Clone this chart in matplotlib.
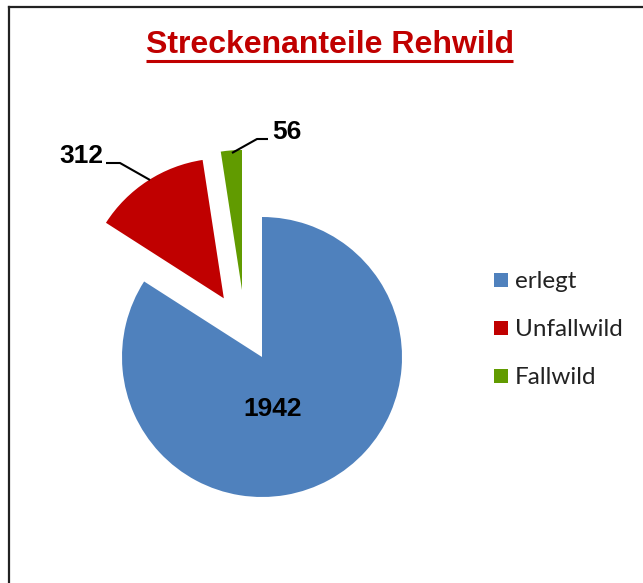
import matplotlib
matplotlib.use("Agg")
import matplotlib.pyplot as plt
from matplotlib.lines import Line2D
from matplotlib.patches import Rectangle

categories = ["erlegt", "Unfallwild", "Fallwild"]
values = [1942, 312, 56]
colors = ["#4F81BD", "#C00000", "#619B00"]
title = "Streckenanteile Rehwild"

W, H = 643, 583
DPI = 100
fig = plt.figure(figsize=(W / DPI, H / DPI), dpi=DPI)
fig.patch.set_facecolor("white")

# pie geometry in pixels
CX, CY, R = 262, 357, 140

ax = fig.add_axes([0, 0, 1, 1])
ax.set_xlim(-CX / R, (W - CX) / R)
ax.set_ylim(-(H - CY) / R, CY / R)
ax.axis("off")


def px(x, y):
    return ((x - CX) / R, (CY - y) / R)


wedges, _ = ax.pie(values, colors=colors, startangle=90, counterclock=False,
                   explode=[0, 0.5, 0.0], radius=1,
                   wedgeprops=dict(linewidth=0))
# Fallwild slice pulled out as in the reference
wedges[2].set_center(px(242, 290))
ax.set_xlim(-CX / R, (W - CX) / R)
ax.set_ylim(-(H - CY) / R, CY / R)
ax.set_aspect("auto")

lab_font = dict(family=["Liberation Sans", "DejaVu Sans"], fontweight="bold",
                fontsize=19, color="black")

# value labels
ax.text(*px(273, 409), str(values[0]), ha="center", va="center", **lab_font)
ax.text(*px(81, 156), str(values[1]), ha="center", va="center", **lab_font)
ax.text(*px(287, 132), str(values[2]), ha="center", va="center", **lab_font)

# leader lines
xs, ys = zip(px(106, 163), px(120, 163), px(150, 180))
ax.plot(xs, ys, color="black", lw=1.5, solid_capstyle="butt")
xs, ys = zip(px(268, 139), px(257, 139), px(232, 153))
ax.plot(xs, ys, color="black", lw=1.5, solid_capstyle="butt")

# title
fig.text(330 / W, 1 - 45 / H, title, ha="center", va="center",
         family=["Liberation Sans", "DejaVu Sans"], fontweight="bold",
         fontsize=23, color="#C00000")
fig.add_artist(Line2D([146 / W, 513 / W], [1 - 60.5 / H, 1 - 60.5 / H],
                      color="#C00000", lw=2.2, solid_capstyle="butt"))

# legend
leg_y = [280, 328, 376]
for cat, col, y in zip(categories, colors, leg_y):
    fig.add_artist(Rectangle((493.5 / W, 1 - (y + 7) / H), 14 / W, 14 / H,
                             facecolor=col, edgecolor="none",
                             transform=fig.transFigure))
    fig.text(515 / W, 1 - (y + 1) / H, cat, ha="left", va="center",
             family=["Lato", "DejaVu Sans"], fontsize=17.5, color="#222222")

# chart border (left and top)
fig.add_artist(Line2D([8.5 / W, 8.5 / W], [0, 1 - 6.5 / H], color="#222222", lw=1.6))
fig.add_artist(Line2D([8.5 / W, 1], [1 - 6.5 / H, 1 - 6.5 / H], color="#222222", lw=1.6))

fig.savefig("out.png", dpi=DPI, facecolor="white")
